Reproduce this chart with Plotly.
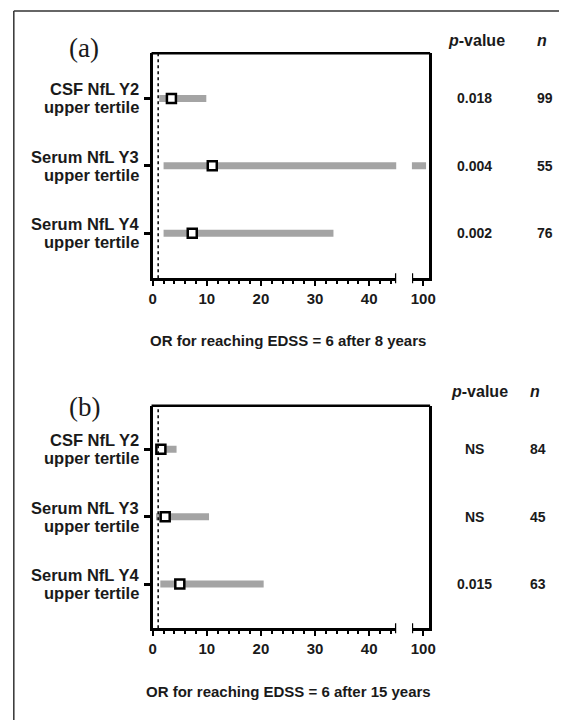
import plotly.graph_objects as go

W, H = 566, 720

# ---------------- data ----------------
categories = [["CSF NfL Y2", "upper tertile"],
              ["Serum NfL Y3", "upper tertile"],
              ["Serum NfL Y4", "upper tertile"]]
row_pos = [1, 2, 3]

# Panel (a): OR for reaching EDSS = 6 after 8 years
or_a = [3.45, 11.0, 7.3]
lo_a = [1.2, 2.0, 2.0]
hi_a = [9.9, 105.0, 33.4]
p_a = ["0.018", "0.004", "0.002"]
n_a = ["99", "55", "76"]

# Panel (b): OR for reaching EDSS = 6 after 15 years
or_b = [1.5, 2.3, 5.0]
lo_b = [0.8, 0.6, 1.4]
hi_b = [4.4, 10.4, 20.5]
p_b = ["NS", "NS", "0.015"]
n_b = ["84", "45", "63"]

seg1_ticks = [0, 10, 20, 30, 40]
seg2_ticks = [100]
ref_line = 1

# ---------------- styling ----------------
FONT = "Arial, Liberation Sans, sans-serif"
TXT = "#1a1a1a"
BAR = "#a4a4a4"
LW = 2.5


def px(x):
    return x / W


def py(y):
    return 1 - y / H


fig = go.Figure()

panels = [
    dict(tag="(a)", orv=or_a, lo=lo_a, hi=hi_a, p=p_a, n=n_a,
         top=53.3, bottom=278.3, yrange=[3.67, 0.33],
         title="OR for reaching EDSS = 6 after 8 years", title_y=340,
         tag_y=48, head_y=40.7, head_px=481.7, head_nx=548.3,
         val_px=480, val_nx=551.5, xa=("x", "x2"), ya=("y", "y2")),
    dict(tag="(b)", orv=or_b, lo=lo_b, hi=hi_b, p=p_b, n=n_b,
         top=405.7, bottom=628.3, yrange=[3.655, 0.355],
         title="OR for reaching EDSS = 6 after 15 years", title_y=691.7,
         tag_y=407, head_y=391.7, head_px=485, head_nx=541.7,
         val_px=480, val_nx=545, xa=("x3", "x4"), ya=("y3", "y4")),
]

X1L, X1R = 151.7, 400.0   # segment 1 pixel extent
X2L, X2R = 416.0, 433.3   # segment 2 pixel extent
SEG1_RANGE = [0, 45]
SEG2_RANGE = [80, 110]

layout_axes = {}
shapes = []
annotations = []

for i, P in enumerate(panels):
    xa1, xa2 = P["xa"]
    ya1, ya2 = P["ya"]
    k1 = "xaxis" if xa1 == "x" else "xaxis" + xa1[1:]
    k2 = "xaxis" + xa2[1:]
    ky1 = "yaxis" if ya1 == "y" else "yaxis" + ya1[1:]
    ky2 = "yaxis" + ya2[1:]
    ydom = [py(P["bottom"]), py(P["top"])]

    tickfont = dict(family=FONT, size=15, color=TXT, weight=700)
    layout_axes[k1] = dict(
        domain=[px(X1L), px(X1R)], range=SEG1_RANGE, anchor=ya1,
        showline=True, linewidth=LW, linecolor="black", showgrid=False,
        zeroline=False, tickvals=seg1_ticks, ticks="outside", ticklen=5,
        tickwidth=2, tickcolor="black", tickfont=tickfont,
        minor=dict(dtick=2, tick0=0, ticks="outside", ticklen=3,
                   tickwidth=1.5, tickcolor="black", showgrid=False),
        fixedrange=True)
    layout_axes[k2] = dict(
        domain=[px(X2L), px(X2R)], range=SEG2_RANGE, anchor=ya2,
        showline=True, linewidth=LW, linecolor="black", showgrid=False,
        zeroline=False, tickvals=seg2_ticks, ticks="outside", ticklen=5,
        tickwidth=2, tickcolor="black", tickfont=tickfont, fixedrange=True)
    layout_axes[ky1] = dict(
        domain=ydom, range=P["yrange"], anchor=xa1, showline=True,
        linewidth=LW, linecolor="black", showgrid=False, zeroline=False,
        tickvals=row_pos, ticktext=["", "", ""], ticks="outside",
        ticklen=6, tickwidth=2.5, tickcolor="black", fixedrange=True)
    layout_axes[ky2] = dict(
        domain=ydom, range=P["yrange"], anchor=xa2, side="right",
        showline=True, linewidth=LW, linecolor="black", showgrid=False,
        zeroline=False, showticklabels=False, ticks="", fixedrange=True)

    # CI bars drawn on both segments (clipped by each axis)
    bx, by = [], []
    for r, lo, hi in zip(row_pos, P["lo"], P["hi"]):
        bx += [lo, hi, None]
        by += [r, r, None]
    for xa, ya in ((xa1, ya1), (xa2, ya2)):
        fig.add_trace(go.Scatter(x=bx, y=by, mode="lines", xaxis=xa,
                                 yaxis=ya, line=dict(color=BAR, width=7),
                                 hoverinfo="skip", showlegend=False))
    # OR markers
    fig.add_trace(go.Scatter(
        x=P["orv"], y=row_pos, mode="markers", xaxis=xa1, yaxis=ya1,
        marker=dict(symbol="square", size=9, color="white",
                    line=dict(color="black", width=2.5)),
        showlegend=False))

    # reference line at OR = 1
    shapes.append(dict(type="line", xref=xa1, yref=ya1 + " domain",
                       x0=ref_line, x1=ref_line, y0=0, y1=1,
                       line=dict(color="black", width=1.5, dash="dot")))
    # top frame line of the box
    shapes.append(dict(type="line", xref="paper", yref="paper",
                       x0=px(X1L) - 0.5 / W * 2.5, x1=px(X2R) + 1.25 / W,
                       y0=py(P["top"]), y1=py(P["top"]),
                       line=dict(color="black", width=LW)))
    # axis-break caps
    for xr, xv in ((xa1, SEG1_RANGE[1]), (xa2, SEG2_RANGE[0])):
        shapes.append(dict(type="line", xref=xr, yref="paper",
                           x0=xv, x1=xv, y0=py(P["bottom"] + 5),
                           y1=py(P["bottom"] - 5),
                           line=dict(color="black", width=LW)))

    # panel tag
    annotations.append(dict(text=P["tag"], xref="paper", yref="paper",
                            x=px(82), y=py(P["tag_y"]), showarrow=False,
                            xanchor="center", yanchor="middle",
                            font=dict(family="Liberation Serif, Times New Roman, serif",
                                      size=27, color=TXT)))
    # category labels (two lines each)
    for r, (l1, l2) in zip(row_pos, categories):
        for txt, sh in ((l1, 9), (l2, -9)):
            annotations.append(dict(text=txt, xref="paper", yref=ya1,
                                    x=px(139.5), y=r, yshift=sh,
                                    showarrow=False, xanchor="right",
                                    yanchor="middle",
                                    font=dict(family=FONT, size=16.5,
                                              color=TXT, weight=700)))
    # column headers
    hfont = dict(family=FONT, size=16, color=TXT, weight=700)
    annotations.append(dict(text="<i>p</i>-value", xref="paper", yref="paper",
                            x=px(P["head_px"]), y=py(P["head_y"]),
                            showarrow=False, xanchor="center",
                            yanchor="middle", font=hfont))
    annotations.append(dict(text="<i>n</i>", xref="paper", yref="paper",
                            x=px(P["head_nx"]), y=py(P["head_y"]),
                            showarrow=False, xanchor="center",
                            yanchor="middle", font=hfont))
    vfont = dict(family=FONT, size=14, color=TXT, weight=700)
    for r, pv, nv in zip(row_pos, P["p"], P["n"]):
        annotations.append(dict(text=pv, xref="paper", yref=ya1,
                                x=px(P["val_px"]), y=r, showarrow=False,
                                xanchor="center", yanchor="middle",
                                font=vfont))
        annotations.append(dict(text=nv, xref="paper", yref=ya1,
                                x=px(P["val_nx"]), y=r, showarrow=False,
                                xanchor="center", yanchor="middle",
                                font=vfont))
    # x-axis title
    annotations.append(dict(text=P["title"], xref="paper", yref="paper",
                            x=px(290), y=py(P["title_y"]), showarrow=False,
                            xanchor="center", yanchor="middle",
                            font=dict(family=FONT, size=15, color=TXT,
                                      weight=700)))

# outer frame (left and top edges)
shapes.append(dict(type="line", xref="paper", yref="paper",
                   x0=px(10), x1=px(10), y0=0, y1=py(11),
                   line=dict(color="#333333", width=1.5)))
shapes.append(dict(type="line", xref="paper", yref="paper",
                   x0=px(10), x1=1, y0=py(11), y1=py(11),
                   line=dict(color="#333333", width=1.5)))

fig.update_layout(
    width=W, height=H, margin=dict(l=0, r=0, t=0, b=0),
    paper_bgcolor="white", plot_bgcolor="white",
    showlegend=False, shapes=shapes, annotations=annotations,
    **layout_axes)

fig.write_html("out.html", config={"displayModeBar": False})
